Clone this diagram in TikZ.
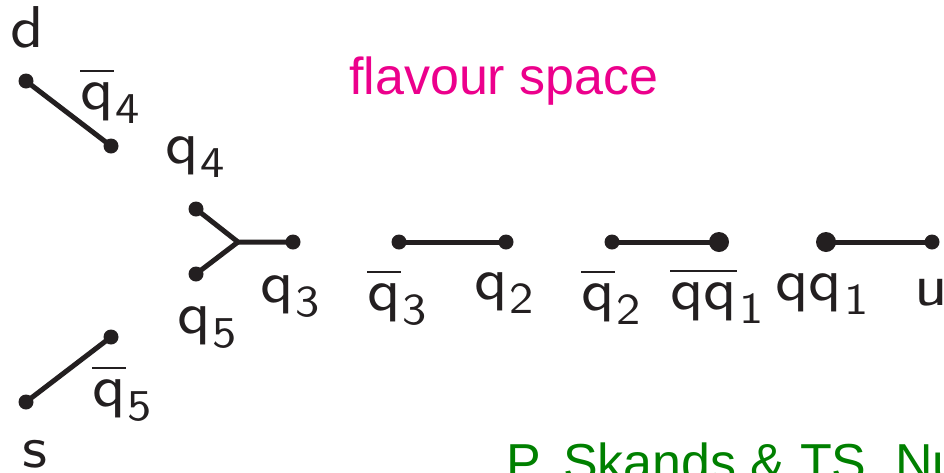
\documentclass[tikz,border=0pt]{standalone}
\usepackage{fontspec}
\newfontfamily\headfont{Liberation Sans}
\newfontfamily\lblfont[FakeStretch=1.1]{lmsans10-regular.otf}
\definecolor{inkdark}{RGB}{35,31,32}
\definecolor{flavpink}{RGB}{236,0,140}
\definecolor{refgreen}{RGB}{0,128,0}
\newcommand{\subsz}{\fontsize{44}{48}\selectfont}
\newcommand{\ovbar}[1]{\setbox0\hbox{#1}\rlap{\rule[0.62em]{\wd0}{0.045em}}\box0}
\newcommand{\sub}[1]{\kern0.03em\raisebox{-0.24em}{\subsz #1}}
\newcommand{\qk}[1]{q\sub{#1}}
\newcommand{\aqk}[1]{\ovbar{q}\sub{#1}}
\tikzset{
  parton/.style={circle, fill=inkdark, inner sep=0pt, minimum size=15pt},
  diquark/.style={circle, fill=inkdark, inner sep=0pt, minimum size=20pt},
  string/.style={draw=inkdark, line width=5pt},
  lbl/.style={anchor=base west, inner sep=0pt, text=inkdark,
              font=\lblfont\fontsize{59}{62}\selectfont},
  headline/.style={anchor=base west, inner sep=0pt,
                   font=\headfont\fontsize{52}{60}\selectfont},
}
\begin{document}
\begin{tikzpicture}[x=1pt, y=-1pt]
    \path[use as bounding box, clip] (0,0) rectangle (944,472);
    % string endpoints
    \node[parton] (dq) at (26,81) {};
    \node[parton] (aq4) at (111,146) {};
    \node[parton] (sq) at (26,402) {};
    \node[parton] (aq5) at (111,337) {};
    \node[parton] (q4) at (196,209) {};
    \node[parton] (q5) at (196,274) {};
    \coordinate (junc) at (238,242);
    \node[parton] (q3) at (293,242) {};
    \node[parton] (aq3) at (399,242) {};
    \node[parton] (q2) at (506,242) {};
    \node[parton] (aq2) at (612,242) {};
    \node[diquark] (adq1) at (719,242) {};
    \node[diquark] (dq1) at (826,242) {};
    \node[parton] (uq) at (932,242) {};
    % strings
    \draw[string] (dq.center) -- (aq4.center);
    \draw[string] (sq.center) -- (aq5.center);
    \draw[string] (q4.center) -- (junc) -- (q3.center);
    \draw[string] (q5.center) -- (junc);
    \draw[string] (aq3.center) -- (q2.center);
    \draw[string] (aq2.center) -- (adq1.center);
    \draw[string] (dq1.center) -- (uq.center);
    % labels
    \node[lbl] (ld) at (10,47) {d};
    \node[lbl] (laq4) at (80,109) {\aqk{4}};
    \node[lbl] (lq4) at (165,163) {\qk{4}};
    \node[lbl] (lq3) at (260,302) {\qk{3}};
    \node[lbl] (lq5) at (177,333) {\qk{5}};
    \node[lbl] (laq5) at (92,406) {\aqk{5}};
    \node[lbl] (ls) at (22,467) {s};
    \node[lbl] (laq3) at (367,310) {\aqk{3}};
    \node[lbl] (lq2) at (474,299) {\qk{2}};
    \node[lbl] (laq2) at (581,310) {\aqk{2}};
    \node[lbl] (ladq1) at (670,309) {\ovbar{qq}\sub{1}};
    \node[lbl] (ldq1) at (775,300) {qq\sub{1}};
    \node[lbl] (lu) at (914,305) {u};
    % captions
    \node[headline, text=flavpink] (title) at (349,94) {flavour space};
    \node[headline, text=refgreen] (credit) at (506,480) {P. Skands \& TS, Nu};
\end{tikzpicture}
\end{document}
